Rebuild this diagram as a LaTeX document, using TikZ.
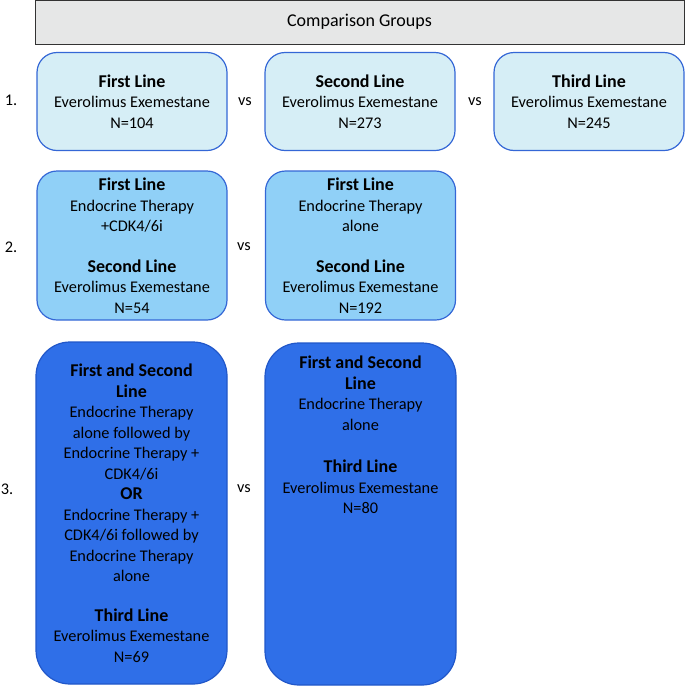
\documentclass[tikz,border=0pt]{standalone}
\usepackage{fontspec}
\setmainfont{Carlito}
\definecolor{hdrgray}{HTML}{E6E7E7}
\definecolor{paleblue}{HTML}{D6EEF6}
\definecolor{skyblue}{HTML}{90D0F7}
\definecolor{deepblue}{HTML}{2F6FE8}
\definecolor{edgeblue}{HTML}{3467D6}
\definecolor{edgedeep}{HTML}{2157C9}
\newcommand{\ttl}[1]{{\fontsize{18}{20.5}\selectfont\bfseries #1}}
\tikzset{
  txt/.style={font=\fontsize{16.3}{20.5}\selectfont, align=center, inner sep=0pt},
  grpbox/.style={txt, rounded corners=20pt, draw=edgeblue, line width=1.2pt},
  box1/.style={grpbox, fill=paleblue, minimum width=190pt, minimum height=98pt},
  box2/.style={grpbox, fill=skyblue, minimum width=190pt, minimum height=149pt},
  box3/.style={grpbox, fill=deepblue, draw=edgedeep, rounded corners=34pt, minimum width=191pt, minimum height=342pt},
}
\begin{document}
\begin{tikzpicture}[x=1pt,y=-1pt]
\useasboundingbox (0,0) rectangle (685,686);
% header
\node [txt, font=\fontsize{18}{20.5}\selectfont, draw=black!80, line width=1pt, fill=hdrgray, minimum width=649pt, minimum height=44pt] (hdr) at (359.5,22) {Comparison Groups};
% row 1
\node [txt] (n1) at (11,100) {1.};
\node [box1] (fl1) at (132,101.5) {\ttl{First Line}\\Everolimus Exemestane\\N=104};
\node [box1] (sl1) at (360,101.5) {\ttl{Second Line}\\Everolimus Exemestane\\N=273};
\node [box1] (tl1) at (589,101.5) {\ttl{Third Line}\\Everolimus Exemestane\\N=245};
\node [txt] (vs1a) at (245,102) {vs};
\node [txt] (vs1b) at (475,102) {vs};
% row 2
\node [txt] (n2) at (11,247) {2.};
\node [box2] (cdk2) at (132,245.5) {\ttl{First Line}\\Endocrine Therapy\\+CDK4/6i\\[20pt]\ttl{Second Line}\\Everolimus Exemestane\\N=54};
\node [box2] (alo2) at (360.5,245.5) {\ttl{First Line}\\Endocrine Therapy\\alone\\[20pt]\ttl{Second Line}\\Everolimus Exemestane\\N=192};
\node [txt] (vs2) at (244,247) {vs};
% row 3
\node [txt] (n3) at (7,489) {3.};
\node [box3] (cdk3) at (131.5,513) {\ttl{First and Second}\\\ttl{Line}\\Endocrine Therapy\\alone followed by\\Endocrine Therapy +\\CDK4/6i\\\ttl{OR}\\Endocrine Therapy +\\CDK4/6i followed by\\Endocrine Therapy\\alone\\[19pt]\ttl{Third Line}\\Everolimus Exemestane\\N=69};
\node [box3] (alo3) at (360.5,514) {};
\node [txt, anchor=north] (alo3t) at (alo3.north |- 0,356) {\ttl{First and Second}\\\ttl{Line}\\Endocrine Therapy\\alone\\[22pt]\ttl{Third Line}\\Everolimus Exemestane\\N=80};
\node [txt] (vs3) at (244,489) {vs};
\end{tikzpicture}
\end{document}
